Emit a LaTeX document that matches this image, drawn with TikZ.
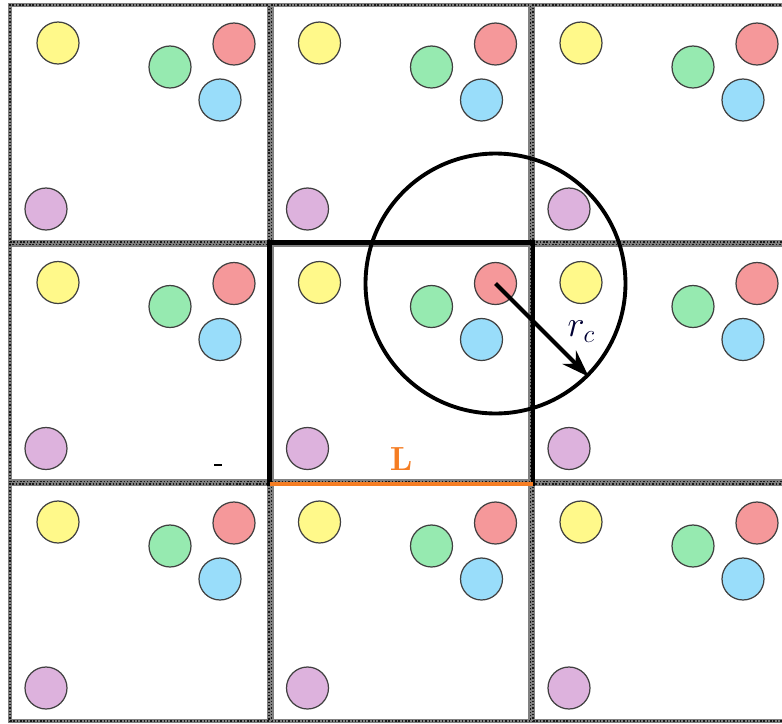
\documentclass[tikz,border=0pt]{standalone}
\usepackage{amsmath,amssymb}
\usepackage{xcolor}
\usetikzlibrary{arrows.meta,positioning}

\definecolor{pyellow}{RGB}{255,249,138}
\definecolor{pgreen}{RGB}{150,234,176}
\definecolor{pred}{RGB}{245,152,154}
\definecolor{pblue}{RGB}{153,221,250}
\definecolor{ppurple}{RGB}{221,178,221}
\definecolor{edgeorange}{RGB}{245,125,35}

\begin{document}
\begin{tikzpicture}[
    x=0.02cm, y=-0.02cm,
    cell/.style={rectangle, draw=black!50, line width=2.4pt, minimum width=5.18cm, minimum height=4.74cm, anchor=north west, inner sep=0pt,
        postaction={draw=black!90, line width=0.7pt, dash pattern=on 0.8pt off 1.1pt}},
    particle/.style={circle, draw=black!75, line width=0.7pt, minimum size=0.84cm, inner sep=0pt},
    cutoff/.style={circle, draw, line width=2.2pt, minimum size=5.2cm, inner sep=0pt},
    arrow/.style={-{Stealth[length=0.55cm, width=0.38cm]}, line width=2.4pt},
]
    \useasboundingbox (0,0) rectangle (782,724);
    \clip (0,0) rectangle (782,724);

    % periodic images of the box
    \foreach \c in {0,1,2} {
        \foreach \r in {0,1,2} {
            \node[cell] (cell-\c-\r) at ({8+261.5*\c},{3+239.5*\r}) {};
            \node[particle, fill=pyellow] (y-\c-\r) at ([shift={(50,40)}]cell-\c-\r.north west) {};
            \node[particle, fill=pgreen] (g-\c-\r) at ([shift={(162,64)}]cell-\c-\r.north west) {};
            \node[particle, fill=pred] (r-\c-\r) at ([shift={(226,41)}]cell-\c-\r.north west) {};
            \node[particle, fill=pblue] (b-\c-\r) at ([shift={(212,97)}]cell-\c-\r.north west) {};
            \node[particle, fill=ppurple] (p-\c-\r) at ([shift={(38,206)}]cell-\c-\r.north west) {};
        }
    }

    % central box
    \draw[line width=2.4pt] (cell-1-1.north west) rectangle (cell-1-1.south east);
    \draw[edgeorange, line width=2.4pt] (cell-1-1.south west) -- node[above=0.1cm, font=\fontsize{19}{22}\selectfont\bfseries] {L} (cell-1-1.south east);

    \draw[line width=0.8pt] (214,465) -- (222,465);

    % cutoff sphere
    \node[cutoff] (range) at (r-1-1) {};
    \draw[arrow] (r-1-1.center) -- node[pos=0.7, above right=-1pt, font=\huge, text=black!80!blue] {$r_c$} (range.-45);
\end{tikzpicture}
\end{document}
